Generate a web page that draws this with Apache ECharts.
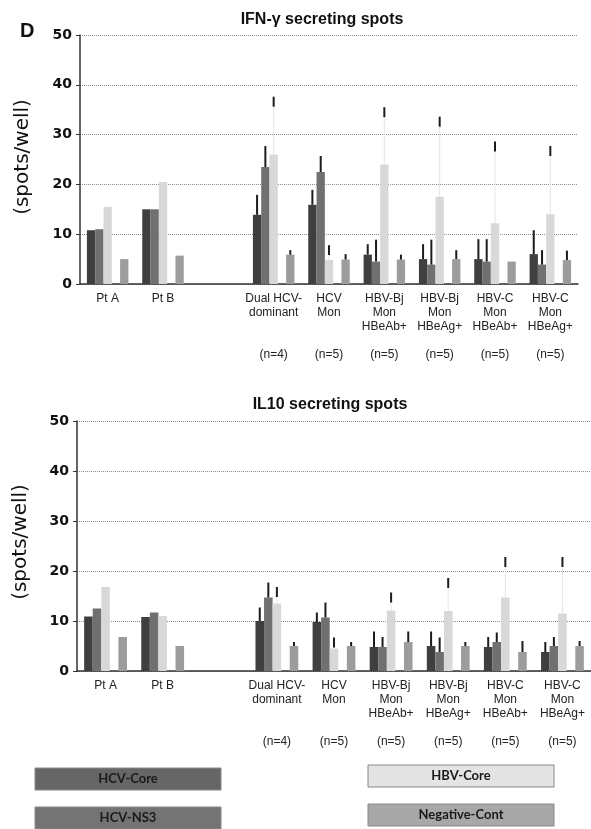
<!DOCTYPE html>
<html>
<head>
<meta charset="utf-8">
<script src="https://cdn.jsdelivr.net/npm/echarts@6/dist/echarts.min.js"></script>
<style>
  html, body { margin: 0; padding: 0; background: #fff; }
  #container { width: 591px; height: 829px; }
</style>
</head>
<body>
<div id="container"></div>
<script>
// groups on the x axis (third one is an empty spacer group)
const groups = ['Pt A', 'Pt B', '', 'Dual HCV-\ndominant', 'HCV\nMon', 'HBV-Bj\nMon\nHBeAb+', 'HBV-Bj\nMon\nHBeAg+', 'HBV-C\nMon\nHBeAb+', 'HBV-C\nMon\nHBeAg+']
const groupN = ['', '', '', '(n=4)', '(n=5)', '(n=5)', '(n=5)', '(n=5)', '(n=5)']
const seriesNames = ['HCV-Core', 'HCV-NS3', 'HBV-Core', 'Negative-Cont']

// IFN-gamma (spots/well); *Top = upper end of the error bar
const ifnCore = [10.8, 15.0, null, 13.9, 15.9, 5.9, 5.0, 5.0, 6.0]
const ifnCoreTop = [null, null, null, 17.9, 18.9, 8.0, 8.0, 9.0, 10.8]
const ifnNS3 = [11.0, 15.0, null, 23.5, 22.5, 4.5, 3.9, 4.5, 3.9]
const ifnNS3Top = [null, null, null, 27.7, 25.7, 8.9, 8.9, 9.0, 6.8]
const ifnHBV = [15.5, 20.5, null, 26.0, 4.8, 24.0, 17.5, 12.2, 14.0]
const ifnHBVTop = [null, null, null, 37.6, 7.8, 35.5, 33.6, 28.6, 27.7]
const ifnNeg = [5.0, 5.7, null, 5.9, 4.9, 4.9, 5.0, 4.5, 4.8]
const ifnNegTop = [null, null, null, 6.8, 6.0, 5.9, 6.8, null, 6.7]

// IL10 (spots/well)
const il10Core = [10.9, 10.8, null, 10.0, 9.8, 4.8, 5.0, 4.8, 3.8]
const il10CoreTop = [null, null, null, 12.7, 11.7, 7.9, 7.9, 6.8, 5.8]
const il10NS3 = [12.5, 11.7, null, 14.7, 10.7, 4.8, 3.8, 5.8, 5.0]
const il10NS3Top = [null, null, null, 17.7, 13.7, 6.8, 6.7, 7.7, 6.8]
const il10HBV = [16.8, 11.0, null, 13.5, 4.5, 12.1, 12.0, 14.7, 11.5]
const il10HBVTop = [null, null, null, 16.8, 6.7, 15.7, 18.6, 22.8, 22.8]
const il10Neg = [6.8, 5.0, null, 5.0, 5.0, 5.8, 5.0, 3.8, 5.0]
const il10NegTop = [null, null, null, 5.8, 5.8, 7.9, 5.8, 6.0, 6.0]

const yTicks = [0, 10, 20, 30, 40, 50]

const colors = ['#3f3f3f', '#707070', '#d8d8d8', '#9c9c9c']
const boxColors = ['#666', '#747474', '#e4e4e4', '#a8a8a8']
const barW = 0.15 // share of the category band per bar
const slots = [0, 1, 2, 4] // slot 3 stays empty

const chart = echarts.init(document.getElementById('container'))

function bars(axis, data, k) {
  return {
    type: 'bar', name: seriesNames[k], xAxisIndex: axis, yAxisIndex: axis,
    data, barWidth: '15%', barGap: '0%', silent: true,
    itemStyle: { color: colors[k] }
  }
}

function spacer(axis) {
  return { type: 'bar', xAxisIndex: axis, yAxisIndex: axis, data: [], barWidth: '15%', barGap: '0%', silent: true }
}

function errBars(axis, values, tops, k) {
  const data = []
  values.forEach((v, i) => { if (tops[i] != null) data.push([i, v, tops[i]]) })
  const slot = slots[k]
  const tipOnly = k === 2 // light bars: only the tip of the error bar shows dark
  return {
    type: 'custom', xAxisIndex: axis, yAxisIndex: axis, z: 5, silent: true, data,
    renderItem(params, api) {
      const band = api.size([1, 0])[0]
      const i = api.value(0), v = api.value(1), t = api.value(2)
      const base = api.coord([i, v])
      const top = api.coord([i, t])
      const x = base[0] + (slot - 2) * barW * band
      if (!tipOnly) {
        return { type: 'line', shape: { x1: x, y1: base[1], x2: x, y2: top[1] }, style: { stroke: '#1c1c1c', lineWidth: 2 } }
      }
      const tip = api.coord([i, Math.max(v, t - 2)])
      return {
        type: 'group',
        children: [
          { type: 'line', shape: { x1: x, y1: base[1], x2: x, y2: top[1] }, style: { stroke: '#e6e6e6', lineWidth: 1 } },
          { type: 'line', shape: { x1: x, y1: tip[1], x2: x, y2: top[1] }, style: { stroke: '#1c1c1c', lineWidth: 2 } }
        ]
      }
    }
  }
}

function xAxis(gridIndex) {
  return {
    type: 'category', gridIndex, data: groups,
    axisLine: { lineStyle: { color: '#333', width: 1.5 } },
    axisTick: { show: false },
    axisLabel: {
      interval: 0, margin: 8, fontFamily: 'Liberation Sans', fontSize: 12, lineHeight: 14, color: '#222',
      formatter: (name, idx) => {
        if (!groupN[idx]) return name
        const lines = name.split('\n')
        while (lines.length < 4) lines.push('')
        lines.push(groupN[idx])
        return lines.join('\n')
      }
    }
  }
}

function yAxis(gridIndex) {
  return {
    type: 'value', gridIndex, min: yTicks[0], max: yTicks[yTicks.length - 1], interval: 10,
    axisLine: { show: true, lineStyle: { color: '#333', width: 1.5 } },
    axisTick: { show: true, length: 4, lineStyle: { color: '#333' } },
    axisLabel: { margin: 8, fontFamily: 'DejaVu Sans', fontWeight: 'bold', fontSize: 14, color: '#111' },
    splitLine: { lineStyle: { type: 'dotted', color: '#8a8a8a' } }
  }
}

function legendBox(x, y, k) {
  return [
    { type: 'rect', shape: { x, y, width: 186, height: 22 }, style: { fill: boxColors[k], stroke: '#888', lineWidth: 1 } },
    { type: 'text', x: x + 93, y: y + 11, style: { text: seriesNames[k], font: 'bold 13px Lato', fill: '#1a1a1a', textAlign: 'center', textVerticalAlign: 'middle' } }
  ]
}

const option = {
  animation: false,
  grid: [
    { left: 80, top: 35, width: 498, height: 249 },
    { left: 77, top: 421, width: 514, height: 250 }
  ],
  xAxis: [xAxis(0), xAxis(1)],
  yAxis: [yAxis(0), yAxis(1)],
  graphic: [
    { type: 'text', x: 20, y: 21, style: { text: 'D', font: 'bold 20px Liberation Sans', fill: '#111' } },
    { type: 'text', x: 322, y: 20, style: { text: 'IFN-γ secreting spots', font: 'bold 16px Liberation Sans', fill: '#111', textAlign: 'center', textVerticalAlign: 'middle' } },
    { type: 'text', x: 330, y: 405, style: { text: 'IL10 secreting spots', font: 'bold 16px Liberation Sans', fill: '#111', textAlign: 'center', textVerticalAlign: 'middle' } },
    { type: 'text', x: 23, y: 157, rotation: Math.PI / 2, style: { text: '(spots/well)', font: '20px DejaVu Sans', fill: '#111', textAlign: 'center', textVerticalAlign: 'middle' } },
    { type: 'text', x: 21, y: 542, rotation: Math.PI / 2, style: { text: '(spots/well)', font: '20px DejaVu Sans', fill: '#111', textAlign: 'center', textVerticalAlign: 'middle' } },
    ...legendBox(35, 768, 0),
    ...legendBox(35, 807, 1),
    ...legendBox(368, 765, 2),
    ...legendBox(368, 804, 3)
  ],
  series: [
    bars(0, ifnCore, 0), bars(0, ifnNS3, 1), bars(0, ifnHBV, 2), spacer(0), bars(0, ifnNeg, 3),
    bars(1, il10Core, 0), bars(1, il10NS3, 1), bars(1, il10HBV, 2), spacer(1), bars(1, il10Neg, 3),
    errBars(0, ifnCore, ifnCoreTop, 0), errBars(0, ifnNS3, ifnNS3Top, 1),
    errBars(0, ifnHBV, ifnHBVTop, 2), errBars(0, ifnNeg, ifnNegTop, 3),
    errBars(1, il10Core, il10CoreTop, 0), errBars(1, il10NS3, il10NS3Top, 1),
    errBars(1, il10HBV, il10HBVTop, 2), errBars(1, il10Neg, il10NegTop, 3)
  ]
}

chart.setOption(option)
</script>
</body>
</html>
